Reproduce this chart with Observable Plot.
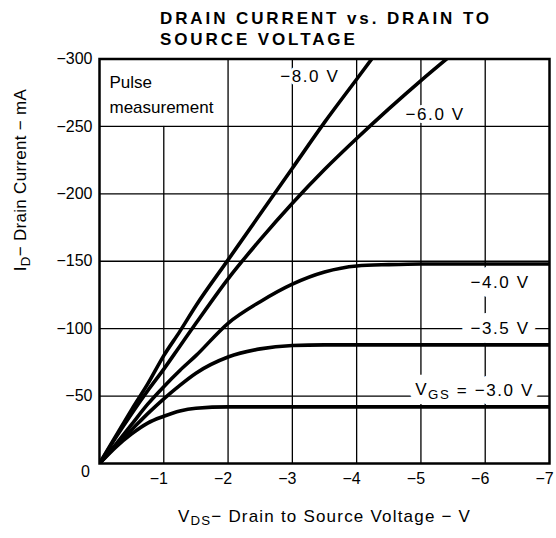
<!DOCTYPE html>
<html>
<head>
<meta charset="utf-8">
<script src="https://cdn.jsdelivr.net/npm/d3@7"></script>
<script src="https://cdn.jsdelivr.net/npm/@observablehq/plot@0.6"></script>
<style>
  body { margin: 0; background: #fff; }
  #wrap { position: relative; width: 556px; height: 538px; }
  #title { position: absolute; left: 160px; top: 7.5px; font: bold 17px "Liberation Sans", Arial, sans-serif; letter-spacing: 2.9px; line-height: 21px; color: #000; white-space: nowrap; }
</style>
</head>
<body>
<div id="wrap"><div id="title">DRAIN CURRENT vs. DRAIN TO<br>SOURCE VOLTAGE</div></div>
<script>
// Drain-to-source voltage (V)
const vds = [0, -0.25, -0.5, -0.75, -1, -1.25, -1.5, -2, -2.5, -3, -3.5, -4, -4.5, -5, -5.5, -6, -6.5, -7];
// Drain current (mA) for each gate-source voltage
const idVgs30 = [0, -12, -22, -30, -35, -39, -41, -42, -42, -42, -42, -42, -42, -42, -42, -42, -42, -42];
const idVgs35 = [0, -13, -25, -37, -48, -58, -67, -79, -85, -87.5, -88, -88, -88, -88, -88, -88, -88, -88];
const idVgs40 = [0, -14, -29, -44, -57, -69, -80, -104, -120, -133, -142, -146.5, -147.5, -148, -148, -148, -148, -148];
const idVgs60 = [0, -19, -37, -54, -70, -87, -104, -137, -166, -193, -218, -241, -263, -284, -304];
const idVgs80 = [0, -20, -40, -59, -80, -98, -117, -151, -185, -219, -253, -285, -317];
const vgsNames = ["-3.0 V", "-3.5 V", "-4.0 V", "-6.0 V", "-8.0 V"];

const xTicks = [-1, -2, -3, -4, -5, -6, -7];
const yTicks = [-50, -100, -150, -200, -250, -300];
const xGrid = [-1, -2, -3, -4, -5, -6];
const yGrid = [-50, -100, -150, -200, -250];

const curveLabels = ["−8.0 V", "−6.0 V", "−4.0 V", "−3.5 V", "VGS = −3.0 V"];
const curveLabelVds = [-2.81, -4.76, -5.77, -5.77, -4.91];
const curveLabelId = [-287, -259, -134, -100, -54.5];

const noteText = ["Pulse\nmeasurement"];
const noteVds = [-0.155];
const noteId = [-275];
const noteBox = [{x1: 0, x2: -2, y1: -250, y2: -300}];

const cornerLabel = [{vds: 0, id: 0, label: "0"}];
const xLabel = ["VDS − Drain to Source Voltage − V"];
const yLabel = ["ID − Drain Current − mA"];

const seriesArrays = [idVgs30, idVgs35, idVgs40, idVgs60, idVgs80];
const curves = seriesArrays.flatMap((arr, k) => arr.map((id, i) => ({vds: vds[i], id, vgs: vgsNames[k]})));

const labelOpts = {x: (d, i) => curveLabelVds[i], y: (d, i) => curveLabelId[i], text: d => d, textAnchor: "start", fontSize: 17};
const haloOpts = {...labelOpts, fill: "#fff", stroke: "#fff", strokeLinejoin: "round"};

const chart = Plot.plot({
  width: 556,
  height: 538,
  marginLeft: 99,
  marginRight: 7,
  marginTop: 58.5,
  marginBottom: 75,
  style: {fontFamily: '"Liberation Sans", Arial, sans-serif', fontSize: "16px", color: "#000", background: "#fff"},
  x: {domain: [0, -7]},
  y: {domain: [0, -300]},
  marks: [
    Plot.ruleX(xGrid, {stroke: "#000", strokeWidth: 1.3}),
    Plot.rect(noteBox, {x1: "x1", x2: "x2", y1: "y1", y2: "y2", fill: "#fff", insetRight: 1.5}),
    Plot.ruleY(yGrid, {stroke: "#000", strokeWidth: 1.3}),
    Plot.text(curveLabels, {...haloOpts, filter: (d, i) => i < 2, strokeWidth: 6}),
    Plot.text(curveLabels, {...haloOpts, filter: (d, i) => i >= 2, strokeWidth: 18}),
    Plot.text(curveLabels, {...labelOpts, fill: "#000"}),
    Plot.line(curves, {x: "vds", y: "id", z: "vgs", stroke: "#000", strokeWidth: 3.6, curve: "monotone-x", clip: true}),
    Plot.text(noteText, {x: (d, i) => noteVds[i], y: (d, i) => noteId[i], text: d => d, textAnchor: "start", fontSize: 17, lineHeight: 1.47, fill: "#000"}),
    Plot.frame({stroke: "#000", strokeWidth: 2.5}),
    Plot.axisX({ticks: xTicks, tickFormat: d3.format("d"), tickSize: 0, tickPadding: 9, fontSize: 16, dx: -5, label: null}),
    Plot.axisY({ticks: yTicks, tickFormat: d3.format("d"), tickSize: 0, tickPadding: 7, fontSize: 16, label: null}),
    Plot.text(cornerLabel, {x: "vds", y: "id", text: "label", dx: -14, dy: 8, fontSize: 16}),
    Plot.text(xLabel, {frameAnchor: "bottom", dy: 58, text: d => d, fontSize: 17}),
    Plot.text(yLabel, {frameAnchor: "left", dx: -79, dy: 10, rotate: -90, text: d => d, fontSize: 17})
  ]
});

const NS = "http://www.w3.org/2000/svg";
function styleText(svg, full, spacing) {
  svg.querySelectorAll("text").forEach(t => {
    if (t.textContent === full) t.setAttribute("letter-spacing", spacing);
  });
}
function subscript(svg, full, base, sub, rest) {
  svg.querySelectorAll("text").forEach(t => {
    if (t.textContent === full) {
      while (t.firstChild) t.removeChild(t.firstChild);
      const a = document.createElementNS(NS, "tspan"); a.textContent = base;
      const b = document.createElementNS(NS, "tspan"); b.textContent = sub;
      b.setAttribute("dy", "0.3em"); b.setAttribute("font-size", "0.78em");
      const c = document.createElementNS(NS, "tspan"); c.textContent = rest;
      c.setAttribute("dy", "-0.23em");
      t.append(a, b, c);
    }
  });
}
curveLabels.forEach(s => styleText(chart, s, "1.6"));
styleText(chart, xLabel[0], "1.2");
styleText(chart, yLabel[0], "0.3");
subscript(chart, "VGS = −3.0 V", "V", "GS", " = −3.0 V");
subscript(chart, xLabel[0], "V", "DS", "− Drain to Source Voltage − V");
subscript(chart, yLabel[0], "I", "D", "− Drain Current − mA");

document.getElementById("wrap").prepend(chart);
</script>
</body>
</html>
